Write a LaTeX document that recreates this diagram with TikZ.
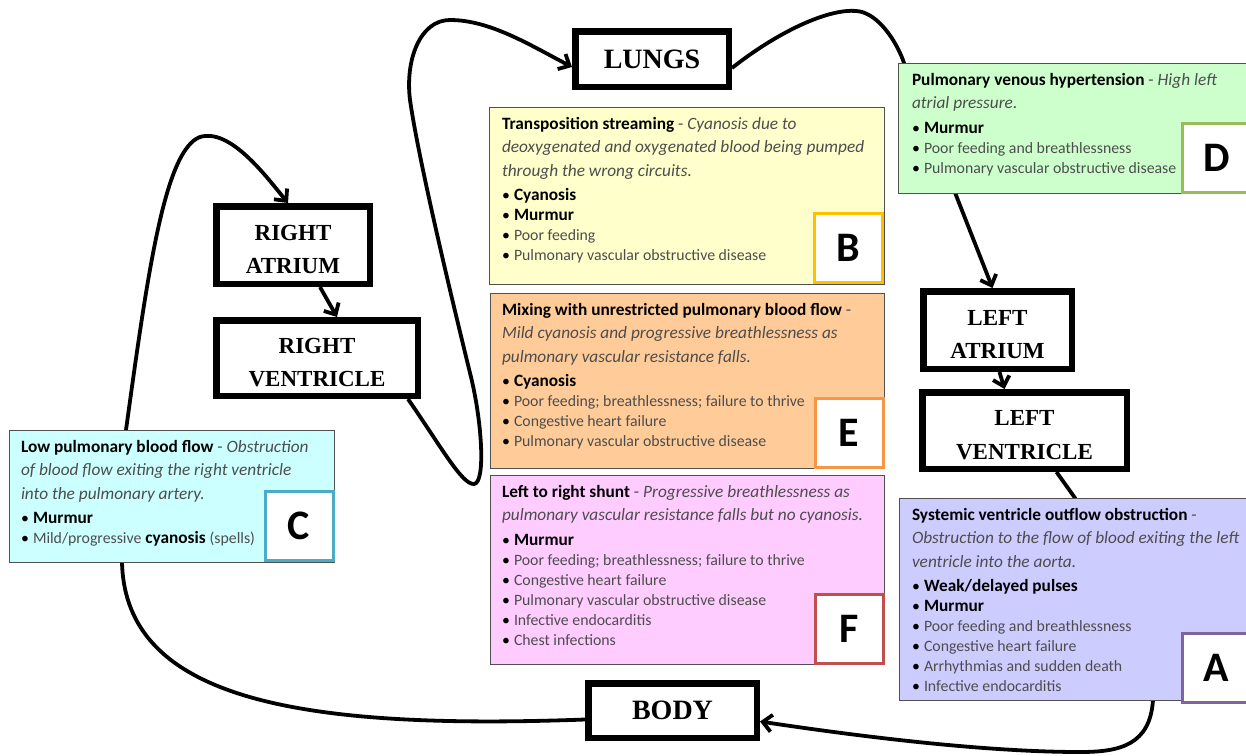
\documentclass[tikz,border=0pt]{standalone}
\usepackage{fontspec}
\setmainfont{Carlito}
\newfontfamily\chfont{Liberation Serif}
\usetikzlibrary{arrows.meta,calc}
\definecolor{txtgray}{HTML}{4D4D4D}
\definecolor{fillB}{HTML}{FFFFCC}
\definecolor{fillD}{HTML}{CCFFCC}
\definecolor{fillE}{HTML}{FFCC99}
\definecolor{fillF}{HTML}{FFCCFF}
\definecolor{fillC}{HTML}{CCFFFF}
\definecolor{fillA}{HTML}{CCCCFF}
\definecolor{edgeB}{HTML}{FFC000}
\definecolor{edgeD}{HTML}{9BBB59}
\definecolor{edgeE}{HTML}{F79646}
\definecolor{edgeF}{HTML}{C0504D}
\definecolor{edgeC}{HTML}{4BACC6}
\definecolor{edgeA}{HTML}{8064A2}
\definecolor{boxedge}{HTML}{505050}
\newcommand\gr[1]{{\color{txtgray}#1}}
\newcommand\grr[1]{{\color{txtgray}\fontsize{15.8}{20}\selectfont#1}}
\newcommand\bul{\makebox[12pt][l]{\fontsize{15.8}{20}\selectfont\textbullet}}
\newcommand\txtfont{\fontsize{17.3}{20}\selectfont}
\newcommand\topstrut{\rule{0pt}{24pt}}
\begin{document}
\begin{tikzpicture}[x=1pt,y=-1pt,
  chamber/.style={draw=black, line width=6.5pt, fill=white, inner sep=0pt,
    align=center, font=\chfont\bfseries\fontsize{23}{33.5}\selectfont},
  bigchamber/.style={chamber, font=\chfont\bfseries\fontsize{28}{30}\selectfont},
  info/.style={draw=boxedge, line width=1.3pt, anchor=north west, inner sep=0pt},
  letbox/.style={fill=white, line width=3pt, inner sep=0pt,
    minimum width=68pt, minimum height=69pt, font=\bfseries\fontsize{42}{44}\selectfont},
  txt/.style={anchor=base west, inner sep=0pt, outer sep=0pt},
  conn/.style={line width=3.8pt, line join=round, -{Straight Barb[length=9pt,width=17pt]}}
]
\useasboundingbox (0,0) rectangle (1246,755);
\fill[white] (0,0) rectangle (1246,755);

% chambers
\node[bigchamber, minimum width=153.5pt, minimum height=55.5pt] (lungs) at (652,59) {LUNGS};
\node[bigchamber, minimum width=168.5pt, minimum height=54.5pt] (body) at (672.5,710.5) {BODY};
\node[chamber, minimum width=153.5pt, minimum height=77.5pt] (ra) at (293,245) {\topstrut RIGHT\\ATRIUM};
\node[chamber, minimum width=201.5pt, minimum height=75.5pt] (rv) at (317,358) {\topstrut RIGHT\\VENTRICLE};
\node[chamber, minimum width=148.5pt, minimum height=77.5pt] (la) at (997.5,330) {\topstrut LEFT\\ATRIUM};
\node[chamber, minimum width=204.5pt, minimum height=76.5pt] (lv) at (1024.5,430.5) {\topstrut LEFT\\VENTRICLE};

% connectors
\draw[conn] ($(body.west)+(0,9)$) .. controls (300,730) and (125,700) .. (122,562)
  -- (126,430) .. controls (148,270) and (165,150) .. (200,137)
  .. controls (230,128) and (265,175) .. ($(ra.north)+(-5,0)$);
\draw[conn] ($(rv.south east)+(-13,0)$) .. controls (440,445) and (462,485) .. (474,484)
  .. controls (486,483) and (482,420) .. (470,373)
  .. controls (462,340) and (420,170) .. (410,100)
  .. controls (405,60) and (420,20) .. (450,20)
  .. controls (490,20) and (530,45) .. ($(lungs.west)+(0,8)$);
\draw[conn] ($(lungs.east)+(0,9)$) .. controls (780,30) and (835,5) .. (862,12)
  .. controls (882,18) and (898,45) .. (904,63) -- ($(la.north)+(-5,0)$);
\draw[conn] ($(la.south)+(2,0)$) -- ($(lv.north)+(-20,0)$);
\draw[conn] ($(ra.south)+(27,0)$) -- ($(rv.north)+(20,0)$);
\draw[conn] ($(lv.south)+(32,0)$) -- (1075,498) -- (1153,700)
  .. controls (1150,745) and (1120,752) .. (1080,752)
  .. controls (980,752) and (850,735) .. ($(body.east)+(0,11)$);

% info boxes
\node[info, fill=fillB, minimum width=395pt, minimum height=177pt] (boxB) at (489,107) {};
\node[info, fill=fillD, minimum width=360pt, minimum height=130pt] (boxD) at (898,63) {};
\node[info, fill=fillE, minimum width=394pt, minimum height=175pt] (boxE) at (490,293) {};
\node[info, fill=fillF, minimum width=394pt, minimum height=189pt] (boxF) at (490,475) {};
\node[info, fill=fillC, minimum width=325pt, minimum height=132pt] (boxC) at (9,430) {};
\node[info, fill=fillA, minimum width=360pt, minimum height=202pt] (boxA) at (899,498) {};

% texts
\node[txt] (tB) at (502,129) {\parbox[t]{400pt}{\raggedright\txtfont
\textbf{Transposition streaming} \gr{- \textit{Cyanosis due to}}\\[3.5pt]
\gr{\textit{deoxygenated and oxygenated blood being pumped}}\\[3.5pt]
\gr{\textit{through the wrong circuits.}}\\[4.5pt]
\bul\textbf{Cyanosis}\\
\bul\textbf{Murmur}\\
\bul\grr{Poor feeding}\\
\bul\grr{Pulmonary vascular obstructive disease}}};

\node[txt] (tD) at (912,85) {\parbox[t]{400pt}{\raggedright\txtfont
\textbf{Pulmonary venous hypertension} \gr{- \textit{High left}}\\[3.5pt]
\gr{\textit{atrial pressure.}}\\[4.5pt]
\bul\textbf{Murmur}\\
\bul\grr{Poor feeding and breathlessness}\\
\bul\grr{Pulmonary vascular obstructive disease}}};

\node[txt] (tE) at (502,315) {\parbox[t]{400pt}{\raggedright\txtfont
\textbf{Mixing with unrestricted pulmonary blood flow} \gr{-}\\[3.5pt]
\gr{\textit{Mild cyanosis and progressive breathlessness as}}\\[3.5pt]
\gr{\textit{pulmonary vascular resistance falls.}}\\[4.5pt]
\bul\textbf{Cyanosis}\\
\bul\grr{Poor feeding; breathlessness; failure to thrive}\\
\bul\grr{Congestive heart failure}\\
\bul\grr{Pulmonary vascular obstructive disease}}};

\node[txt] (tF) at (502,497) {\parbox[t]{400pt}{\raggedright\txtfont
\textbf{Left to right shunt} \gr{- \textit{Progressive breathlessness as}}\\[3.5pt]
\gr{\textit{pulmonary vascular resistance falls but no cyanosis.}}\\[4.5pt]
\bul\textbf{Murmur}\\
\bul\grr{Poor feeding; breathlessness; failure to thrive}\\
\bul\grr{Congestive heart failure}\\
\bul\grr{Pulmonary vascular obstructive disease}\\
\bul\grr{Infective endocarditis}\\
\bul\grr{Chest infections}}};

\node[txt] (tC) at (21,452) {\parbox[t]{400pt}{\raggedright\txtfont
\textbf{Low pulmonary blood flow} \gr{- \textit{Obstruction}}\\[3.5pt]
\gr{\textit{of blood flow exiting the right ventricle}}\\[3.5pt]
\gr{\textit{into the pulmonary artery.}}\\[4.5pt]
\bul\textbf{Murmur}\\
\bul\grr{Mild/progressive} \textbf{cyanosis} \grr{(spells)}}};

\node[txt] (tA) at (912,520) {\parbox[t]{400pt}{\raggedright\txtfont
\textbf{Systemic ventricle outflow obstruction} \gr{-}\\[3.5pt]
\gr{\textit{Obstruction to the flow of blood exiting the left}}\\[3.5pt]
\gr{\textit{ventricle into the aorta.}}\\[4.5pt]
\bul\textbf{Weak/delayed pulses}\\
\bul\textbf{Murmur}\\
\bul\grr{Poor feeding and breathlessness}\\
\bul\grr{Congestive heart failure}\\
\bul\grr{Arrhythmias and sudden death}\\
\bul\grr{Infective endocarditis}}};

% letter boxes
\node[letbox, draw=edgeB] (lB) at (848.5,248) {B};
\node[letbox, draw=edgeD] (lD) at (1216.5,157.5) {D};
\node[letbox, draw=edgeE] (lE) at (849,432.5) {E};
\node[letbox, draw=edgeF] (lF) at (849,629) {F};
\node[letbox, draw=edgeC] (lC) at (299,526) {C};
\node[letbox, draw=edgeA] (lA) at (1216.5,667.5) {A};
\end{tikzpicture}
\end{document}
